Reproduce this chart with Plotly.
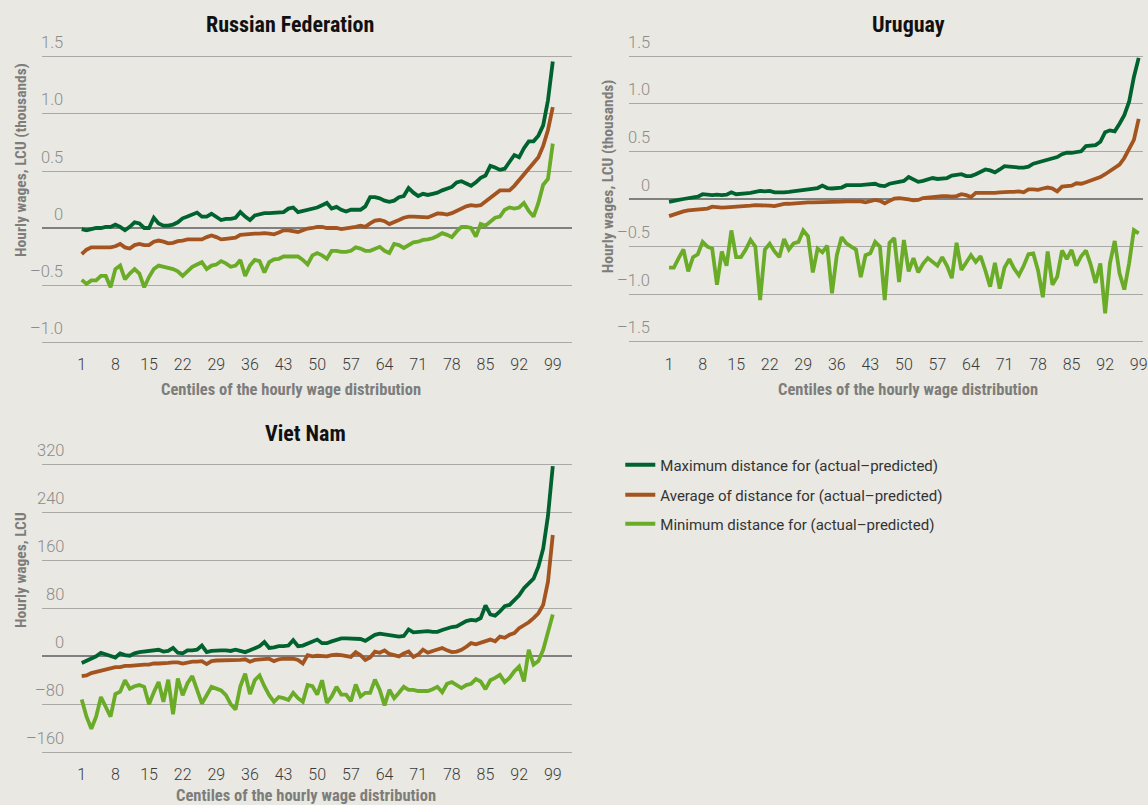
import plotly.graph_objects as go

W, H = 1148, 805

# ---------------------------------------------------------------- data
centiles = list(range(1, 100))
x_ticks = list(range(1, 100, 7))

series_names = [
    "Maximum distance for (actual\u2013predicted)",
    "Average of distance for (actual\u2013predicted)",
    "Minimum distance for (actual\u2013predicted)",
]

# Russian Federation, thousands of LCU
ru_max = [
    -0.01, -0.02, -0.01, 0.0, 0.0, 0.01, 0.01, 0.03, 0.01, -0.02,
    0.01, 0.05, 0.04, 0.0, 0.0, 0.09, 0.04, 0.02, 0.02, 0.03,
    0.05, 0.085, 0.10, 0.12, 0.135, 0.10, 0.10, 0.125, 0.10, 0.07,
    0.08, 0.08, 0.09, 0.14, 0.10, 0.07, 0.11, 0.12, 0.13, 0.13,
    0.135, 0.135, 0.14, 0.17, 0.18, 0.14, 0.15, 0.16, 0.17, 0.18,
    0.20, 0.22, 0.17, 0.185, 0.16, 0.145, 0.16, 0.16, 0.16, 0.19,
    0.27, 0.27, 0.26, 0.24, 0.23, 0.24, 0.27, 0.28, 0.35, 0.31,
    0.28, 0.30, 0.29, 0.30, 0.31, 0.33, 0.345, 0.36, 0.40, 0.41,
    0.39, 0.37, 0.40, 0.44, 0.46, 0.545, 0.53, 0.51, 0.52, 0.58,
    0.64, 0.62, 0.70, 0.76, 0.76, 0.81, 0.90, 1.12, 1.46,
]
ru_avg = [
    -0.23, -0.19, -0.17, -0.17, -0.165, -0.165, -0.17, -0.16, -0.14, -0.17,
    -0.18, -0.15, -0.14, -0.15, -0.15, -0.12, -0.11, -0.12, -0.135, -0.13,
    -0.115, -0.11, -0.10, -0.10, -0.10, -0.10, -0.08, -0.065, -0.08, -0.10,
    -0.095, -0.09, -0.085, -0.06, -0.055, -0.05, -0.05, -0.05, -0.045, -0.05,
    -0.055, -0.04, -0.02, -0.02, -0.03, -0.035, -0.02, -0.005, 0.0, 0.01,
    0.01, 0.0, 0.0, 0.0, -0.01, -0.005, 0.0, 0.01, 0.02, 0.01,
    0.04, 0.065, 0.07, 0.06, 0.035, 0.05, 0.07, 0.09, 0.10, 0.10,
    0.095, 0.095, 0.093, 0.11, 0.128, 0.125, 0.117, 0.13, 0.15, 0.165,
    0.19, 0.20, 0.195, 0.20, 0.23, 0.26, 0.30, 0.33, 0.33, 0.33,
    0.37, 0.42, 0.47, 0.53, 0.57, 0.62, 0.72, 0.86, 1.06,
]
ru_min = [
    -0.455, -0.49, -0.46, -0.46, -0.42, -0.42, -0.52, -0.36, -0.33, -0.45,
    -0.40, -0.36, -0.40, -0.52, -0.43, -0.36, -0.33, -0.34, -0.35, -0.36,
    -0.38, -0.42, -0.38, -0.34, -0.32, -0.30, -0.36, -0.33, -0.32, -0.29,
    -0.31, -0.34, -0.33, -0.28, -0.42, -0.33, -0.28, -0.29, -0.39, -0.30,
    -0.275, -0.27, -0.25, -0.25, -0.245, -0.25, -0.28, -0.32, -0.24, -0.22,
    -0.24, -0.27, -0.20, -0.20, -0.21, -0.21, -0.20, -0.17, -0.18, -0.20,
    -0.20, -0.18, -0.165, -0.20, -0.22, -0.14, -0.15, -0.175, -0.15, -0.125,
    -0.12, -0.105, -0.10, -0.09, -0.07, -0.045, -0.06, -0.08, -0.03, 0.01,
    0.01, 0.0, -0.075, 0.035, 0.02, 0.05, 0.09, 0.10, 0.16, 0.18,
    0.17, 0.18, 0.22, 0.15, 0.10, 0.22, 0.38, 0.43, 0.74,
]

# Uruguay, thousands of LCU
uy_max = [
    -0.03, -0.025, -0.01, 0.0, 0.005, 0.01, 0.025, 0.05, 0.04, 0.04,
    0.045, 0.04, 0.045, 0.07, 0.05, 0.05, 0.06, 0.065, 0.075, 0.085,
    0.08, 0.085, 0.07, 0.065, 0.07, 0.075, 0.08, 0.085, 0.09, 0.10,
    0.105, 0.115, 0.14, 0.115, 0.11, 0.11, 0.12, 0.145, 0.145, 0.14,
    0.145, 0.15, 0.15, 0.16, 0.14, 0.135, 0.16, 0.17, 0.18, 0.19,
    0.23, 0.20, 0.18, 0.19, 0.20, 0.22, 0.21, 0.21, 0.22, 0.245,
    0.25, 0.26, 0.24, 0.24, 0.26, 0.28, 0.31, 0.30, 0.28, 0.31,
    0.345, 0.34, 0.33, 0.33, 0.33, 0.34, 0.37, 0.385, 0.40, 0.41,
    0.425, 0.44, 0.47, 0.485, 0.485, 0.49, 0.50, 0.555, 0.56, 0.565,
    0.60, 0.70, 0.72, 0.71, 0.79, 0.88, 1.02, 1.28, 1.48,
]
uy_avg = [
    -0.18, -0.16, -0.15, -0.13, -0.12, -0.115, -0.11, -0.10, -0.10, -0.08,
    -0.09, -0.09, -0.087, -0.085, -0.085, -0.08, -0.075, -0.07, -0.065, -0.065,
    -0.065, -0.07, -0.075, -0.06, -0.052, -0.05, -0.045, -0.042, -0.038, -0.035,
    -0.036, -0.036, -0.033, -0.03, -0.03, -0.03, -0.028, -0.025, -0.022, -0.022,
    -0.025, -0.035, -0.025, -0.01, -0.02, -0.045, -0.02, 0.005, 0.008, 0.005,
    -0.005, -0.015, -0.01, 0.01, 0.015, 0.025, 0.03, 0.03, 0.03, 0.025,
    0.03, 0.05, 0.04, 0.02, 0.065, 0.065, 0.06, 0.06, 0.065, 0.07,
    0.077, 0.075, 0.075, 0.08, 0.07, 0.10, 0.10, 0.095, 0.11, 0.12,
    0.11, 0.08, 0.13, 0.135, 0.14, 0.165, 0.16, 0.175, 0.19, 0.205,
    0.23, 0.26, 0.29, 0.32, 0.36, 0.43, 0.53, 0.62, 0.84,
]
uy_min = [
    -0.72, -0.72, -0.62, -0.53, -0.76, -0.61, -0.58, -0.45, -0.50, -0.52,
    -0.90, -0.55, -0.70, -0.33, -0.61, -0.61, -0.53, -0.43, -0.50, -1.06,
    -0.53, -0.47, -0.55, -0.61, -0.42, -0.53, -0.465, -0.45, -0.33, -0.39,
    -0.77, -0.52, -0.56, -0.49, -0.99, -0.59, -0.40, -0.465, -0.50, -0.53,
    -0.82, -0.59, -0.57, -0.45, -0.50, -1.06, -0.46, -0.41, -0.87, -0.43,
    -0.76, -0.62, -0.77, -0.68, -0.62, -0.66, -0.70, -0.61, -0.70, -0.83,
    -0.46, -0.745, -0.66, -0.59, -0.66, -0.60, -0.75, -0.92, -0.67, -0.94,
    -0.72, -0.63, -0.73, -0.80, -0.70, -0.58, -0.57, -0.75, -1.03, -0.55,
    -0.90, -0.815, -0.54, -0.63, -0.535, -0.70, -0.60, -0.54, -0.69, -0.88,
    -0.675, -1.20, -0.675, -0.44, -0.78, -0.95, -0.675, -0.325, -0.36,
]

# Viet Nam, LCU
vn_max = [
    -11, -7, -4, 0, 6, 3, 0, -2, 5, 2,
    1, 5, 7, 8, 9, 9, 11, 8, 9, 14,
    6, 5, 10, 10, 11, 18, 7, 9, 10, 10,
    10, 9, 11, 9, 7, 10, 13, 17, 24, 14,
    15, 17, 17, 18, 27, 17, 18, 21, 24, 28,
    22, 22, 25, 27, 30, 30, 30, 30, 29, 26,
    31, 36, 38, 37, 36, 35, 33, 34, 45, 40,
    41, 42, 42, 41, 41, 44, 47, 49, 50, 55,
    59, 61, 60, 64, 85, 70, 68, 75, 84, 86,
    94, 102, 114, 121, 130, 150, 180, 235, 318,
]
vn_avg = [
    -33, -32, -28, -26, -24, -22, -20, -18, -18, -16,
    -16, -15, -15, -14, -14, -12, -12, -12, -11, -10,
    -10, -12, -10, -9, -9, -8, -13, -8, -7, -7,
    -7, -7, -7, -6, -5, -9, -6, -5, -4, -4,
    -8, -5, -4, -4, -4, -6, -12, 2, 0, 1,
    1, 0, 2, 3, 2, 0, -1, 7, 2, -6,
    -2, 8, 6, 10, 4, 2, 0, 5, 8, -1,
    3, 11, 6, 9, 11, 14, 10, 7, 8, 11,
    16, 22, 20, 23, 25, 28, 25, 33, 31, 36,
    39, 47, 52, 57, 64, 72, 86, 125, 203,
]
vn_min = [
    -72, -101, -121, -101, -68, -83, -101, -63, -59, -40,
    -54, -50, -48, -51, -80, -60, -43, -76, -39, -97,
    -37, -65, -45, -33, -55, -79, -65, -51, -54, -57,
    -65, -80, -89, -50, -29, -63, -40, -32, -50, -65,
    -76, -68, -70, -73, -61, -70, -76, -48, -50, -64,
    -40, -78, -67, -51, -64, -64, -75, -47, -67, -61,
    -61, -39, -56, -82, -56, -70, -61, -51, -56, -56,
    -58, -58, -58, -55, -51, -60, -46, -43, -48, -53,
    -48, -46, -38, -42, -55, -40, -36, -31, -43, -36,
    -25, -17, -42, 11, -14, -8, 11, 39, 70,
]

ru_ticks = [-1.0, -0.5, 0.0, 0.5, 1.0, 1.5]
uy_ticks = [-1.5, -1.0, -0.5, 0.0, 0.5, 1.0, 1.5]
vn_ticks = [-160, -80, 0, 80, 160, 240, 320]

for arr in (ru_max, ru_avg, ru_min, uy_max, uy_avg, uy_min, vn_max, vn_avg, vn_min):
    assert len(arr) == len(centiles)

# ---------------------------------------------------------------- styling
BG = "#e9e8e2"
COLORS = ["#00632f", "#a3541f", "#6aab28"]
GRID = "#a9a9a7"
ZERO = "#808080"
COND = "Roboto Condensed, Liberation Sans Narrow, DejaVu Sans Condensed, Roboto, sans-serif"
BODY = "Roboto, Lato, sans-serif"

# panel boxes in pixels: (left, right, top, bottom), x range, y range
panels = [
    dict(name="Russian Federation", box=(42, 575, 54.7, 344.3), xr=[-7.3, 103.1],
         yr=[-1.02, 1.52], ticks=ru_ticks, dec=1, data=(ru_max, ru_avg, ru_min),
         title_xy=(291, 25), ytitle="Hourly wages, LCU (thousands)", ytitle_xy=(21, 160),
         xtitle_xy=(292, 389), ylab_right=65),
    dict(name="Uruguay", box=(632, 1148, 54.1, 343.9), xr=[-7.31, 99.9],
         yr=[-1.52, 1.52], ticks=uy_ticks, dec=1, data=(uy_max, uy_avg, uy_min),
         title_xy=(912, 25), ytitle="Hourly wages, LCU (thousands)", ytitle_xy=(611, 176),
         xtitle_xy=(912, 389), ylab_right=655),
    dict(name="Viet Nam", box=(42, 575, 462.6, 754.4), xr=[-7.3, 103.1],
         yr=[-164, 324], ticks=vn_ticks, dec=0, data=(vn_max, vn_avg, vn_min),
         title_xy=(307, 433), ytitle="Hourly wages, LCU", ytitle_xy=(21, 570),
         xtitle_xy=(307, 795), ylab_right=66),
]


def tick_text(v, dec):
    if v == 0:
        return "0"
    s = f"{abs(v):.{dec}f}"
    return ("\u2013" + s) if v < 0 else s


fig = go.Figure()
annotations = []
layout_axes = {}

for i, p in enumerate(panels):
    n = "" if i == 0 else str(i + 1)
    xa, ya = "x" + n, "y" + n
    left, right, top, bottom = p["box"]
    for k, (vals, name, col) in enumerate(zip(p["data"], series_names, COLORS)):
        fig.add_trace(go.Scatter(
            x=centiles, y=vals, mode="lines", name=name,
            line=dict(color=col, width=3.8),
            xaxis=xa, yaxis=ya,
            showlegend=(i == 0),
            legend="legend" if k == 0 else f"legend{k + 1}",
            hoverinfo="skip",
        ))

    layout_axes["xaxis" + n] = dict(
        domain=[left / W, right / W], range=p["xr"], anchor=ya,
        tickmode="array", tickvals=x_ticks, ticktext=[str(t) for t in x_ticks],
        showgrid=False, zeroline=False, showline=False, ticks="",
        ticklabelstandoff=9, ticklabeloverflow="allow",
        tickfont=dict(family=BODY, size=16, color="#3b3b3b", weight=300),
    )
    layout_axes["yaxis" + n] = dict(
        domain=[1 - bottom / H, 1 - top / H], range=p["yr"], anchor=xa,
        tickmode="array", tickvals=p["ticks"], showticklabels=False,
        showgrid=True, gridcolor=GRID, gridwidth=1.4,
        zeroline=True, zerolinecolor=ZERO, zerolinewidth=2.2,
        showline=False, ticks="",
    )

    # y tick labels sit above their gridlines, right-aligned
    for v in p["ticks"]:
        annotations.append(dict(
            x=p["ylab_right"] / W, xref="paper", y=v, yref=ya,
            text=tick_text(v, p["dec"]), showarrow=False,
            xanchor="right", yanchor="middle", yshift=14,
            font=dict(family=BODY, size=16.5, color="#8c8c8a", weight=300),
        ))

    annotations.append(dict(
        x=p["title_xy"][0] / W, y=1 - p["title_xy"][1] / H, xref="paper", yref="paper",
        text=f"<b>{p['name']}</b>", showarrow=False, xanchor="center", yanchor="middle",
        font=dict(family=COND, size=22, color="#111111"),
    ))
    annotations.append(dict(
        x=p["xtitle_xy"][0] / W, y=1 - p["xtitle_xy"][1] / H, xref="paper", yref="paper",
        text="<b>Centiles of the hourly wage distribution</b>", showarrow=False,
        xanchor="center", yanchor="middle",
        font=dict(family=COND, size=16.5, color="#7d7d7b"),
    ))
    annotations.append(dict(
        x=p["ytitle_xy"][0] / W, y=1 - p["ytitle_xy"][1] / H, xref="paper", yref="paper",
        text=f"<b>{p['ytitle']}</b>", showarrow=False, textangle=-90,
        xanchor="center", yanchor="middle",
        font=dict(family=COND, size=15.5, color="#7d7d7b"),
    ))

legend_common = dict(
    x=623 / W, xanchor="left", yanchor="middle", bgcolor="rgba(0,0,0,0)",
    font=dict(family=BODY, size=15, color="#333333"), borderwidth=0,
)
legend_rows = [465, 495, 524]

fig.update_layout(
    width=W, height=H,
    margin=dict(l=0, r=0, t=0, b=0),
    paper_bgcolor=BG, plot_bgcolor=BG,
    annotations=annotations,
    legend=dict(y=1 - legend_rows[0] / H, **legend_common),
    legend2=dict(y=1 - legend_rows[1] / H, **legend_common),
    legend3=dict(y=1 - legend_rows[2] / H, **legend_common),
    **layout_axes,
)

fig.write_html("out.html")
